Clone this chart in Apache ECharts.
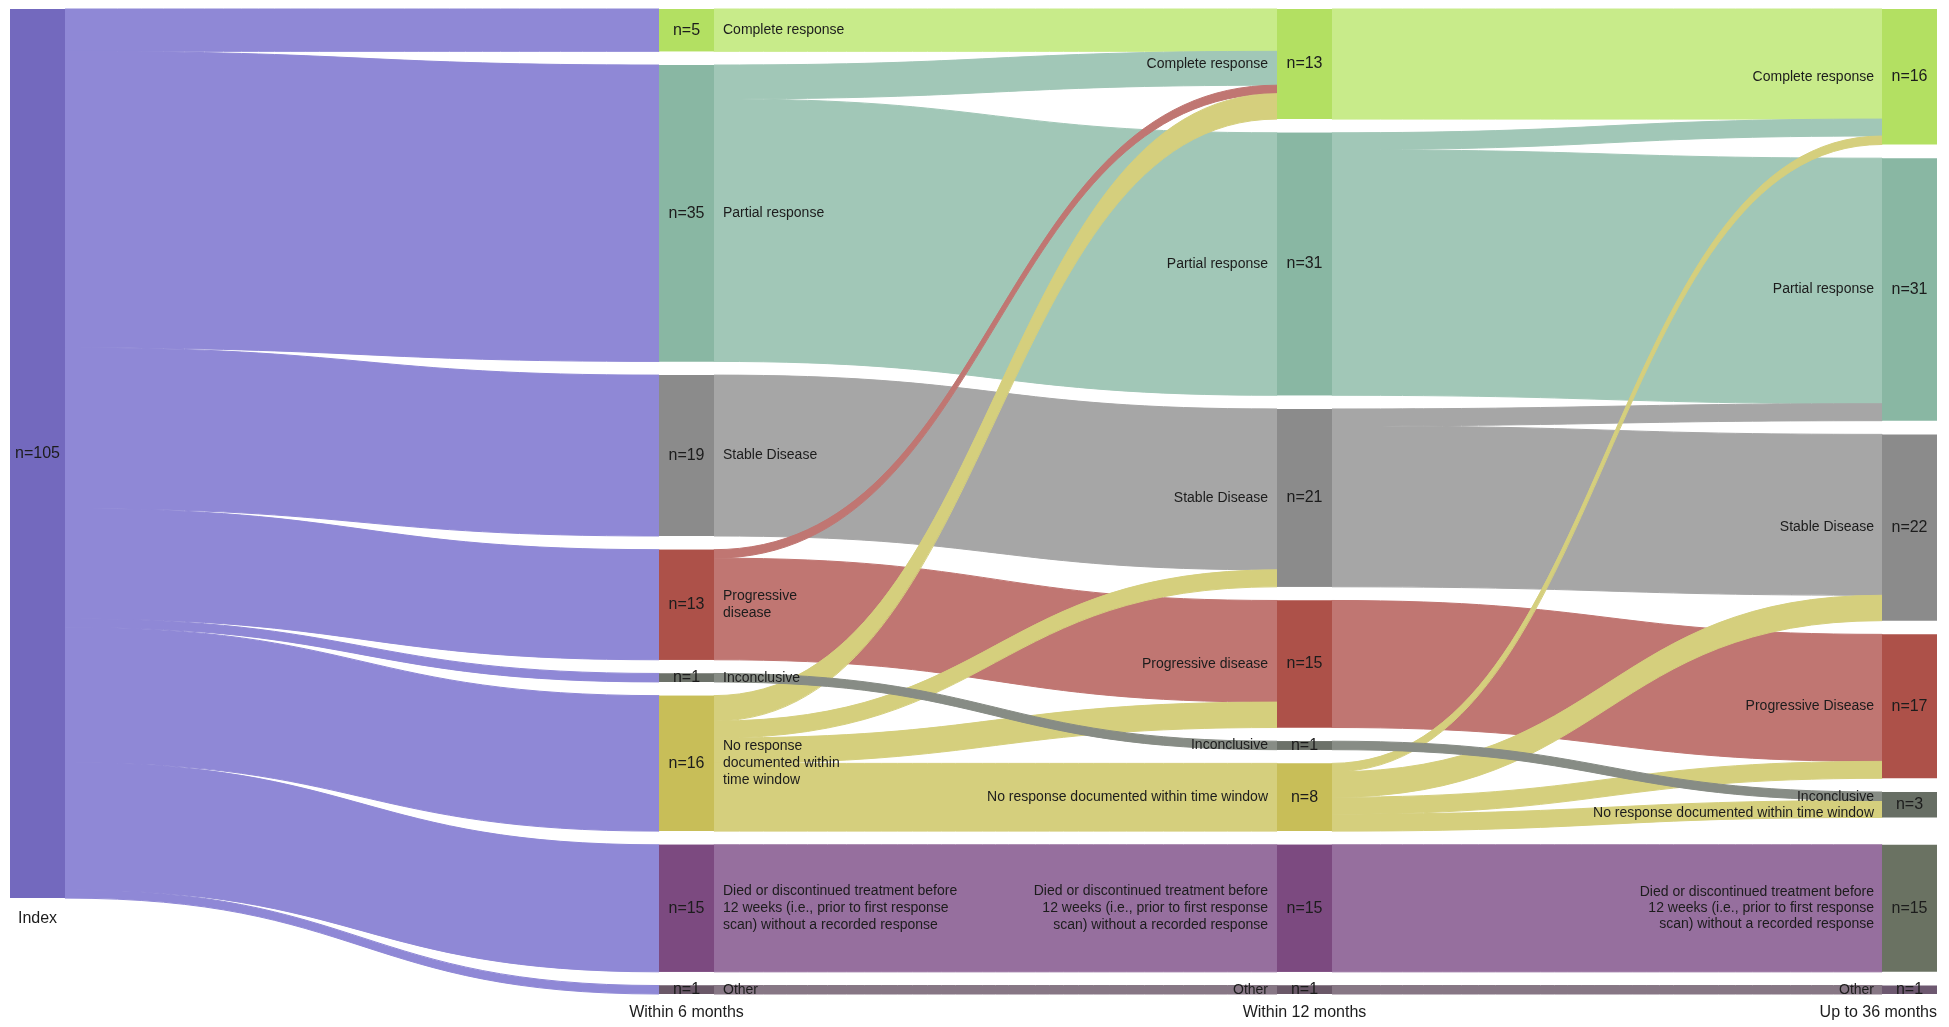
<!DOCTYPE html>
<html>
<head>
<meta charset="utf-8">
<script src="https://cdn.jsdelivr.net/npm/echarts@6/dist/echarts.min.js"></script>
<style>
html,body{margin:0;padding:0;background:#ffffff;}
#chart{width:1949px;height:1027px;}
</style>
</head>
<body>
<div id="chart"></div>
<script>
// ---------------- DATA ----------------
const stageTitles = ['Index', 'Within 6 months', 'Within 12 months', 'Up to 36 months'];

// category keys (same order in every column)
const catKeys = ['CR', 'PR', 'SD', 'PD', 'INC', 'NR', 'DIED', 'OTHER'];

const names6m = [
  'Complete response',
  'Partial response',
  'Stable Disease',
  'Progressive\ndisease',
  'Inconclusive',
  'No response\ndocumented within\ntime window',
  'Died or discontinued treatment before\n12 weeks (i.e., prior to first response\nscan) without a recorded response',
  'Other'
];
const names12m = [
  'Complete response',
  'Partial response',
  'Stable Disease',
  'Progressive disease',
  'Inconclusive',
  'No response documented within time window',
  'Died or discontinued treatment before\n12 weeks (i.e., prior to first response\nscan) without a recorded response',
  'Other'
];
// last column: Inconclusive and No response share one node (n=3)
const keys36m = ['CR', 'PR', 'SD', 'PD', 'INCNR', 'DIED', 'OTHER'];
const names36m = [
  'Complete response',
  'Partial response',
  'Stable Disease',
  'Progressive Disease',
  'Inconclusive\nNo response documented within time window',
  'Died or discontinued treatment before\n12 weeks (i.e., prior to first response\nscan) without a recorded response',
  'Other'
];

const indexTotal = 105;
// Index -> Within 6 months
const indexTo6m = [5, 35, 19, 13, 1, 16, 15, 1];

// Within 6 months -> Within 12 months  [from, to, n]
const flows6to12 = [
  ['CR', 'CR', 5],
  ['PR', 'CR', 4],
  ['PR', 'PR', 31],
  ['SD', 'SD', 19],
  ['PD', 'CR', 1],
  ['PD', 'PD', 12],
  ['NR', 'CR', 3],
  ['NR', 'SD', 2],
  ['NR', 'PD', 3],
  ['NR', 'NR', 8],
  ['DIED', 'DIED', 15],
  ['OTHER', 'OTHER', 1],
  ['INC', 'INC', 1]
];

// Within 12 months -> Up to 36 months  [from, to, n]
const flows12to36 = [
  ['CR', 'CR', 13],
  ['PR', 'CR', 2],
  ['PR', 'PR', 29],
  ['SD', 'PR', 2],
  ['SD', 'SD', 19],
  ['PD', 'PD', 15],
  ['NR', 'CR', 1],
  ['NR', 'SD', 3],
  ['NR', 'PD', 2],
  ['NR', 'INCNR', 2],
  ['DIED', 'DIED', 15],
  ['OTHER', 'OTHER', 1],
  ['INC', 'INCNR', 1]
];

// ---------------- STYLE ----------------
const nodeColor = {
  INDEX: '#7369be', CR: '#b3e062', PR: '#89b7a3', SD: '#8b8b8b', PD: '#ad5149',
  INC: '#6c7169', NR: '#c8be58', DIED: '#7c4a80', OTHER: '#6a5868'
};
const nodeColor36 = {
  CR: '#b3e062', PR: '#89b7a3', SD: '#8b8b8b', PD: '#ad5149',
  INCNR: '#676e64', DIED: '#6a7262', OTHER: '#6d5870'
};
const linkColor = {
  INDEX: '#8f88d6', CR: '#c8eb8a', PR: '#a1c7b7', SD: '#a6a6a6', PD: '#c07672',
  INC: '#878c85', NR: '#d5cf7d', DIED: '#966f9e', OTHER: '#877785'
};

const FONT = '"Liberation Sans", Arial, Helvetica, sans-serif';
const TXT = '#1c1c1c';

// layout (px)
const TOP = 9, BOTTOM = 33, NODE_W = 55, GAP = 13.7;
const colLeft = [10, 659, 1277, 1882];
const W = 1949;

// ---------------- BUILD ----------------
function sum(a) { return a.reduce((s, v) => s + v, 0); }

const transparent = 'rgba(0,0,0,0)';

function nodesIndex(overlay) {
  return [{
    name: 'I', value: indexTotal,
    itemStyle: { color: overlay ? transparent : nodeColor.INDEX },
    label: overlay
      ? { show: true, position: 'bottom', distance: 12, formatter: stageTitles[0], fontSize: 16 }
      : { show: true, position: 'inside', formatter: 'n=' + indexTotal, fontSize: 16 }
  }];
}
function nodes6m(mode) { // mode: 'hidden' | 'n' | 'names'
  return catKeys.map((k, i) => ({
    name: '6_' + k,
    itemStyle: { color: mode === 'names' ? transparent : nodeColor[k] },
    label: mode === 'hidden' ? { show: false }
      : mode === 'n' ? { show: true, position: 'inside', formatter: 'n=' + indexTo6m[i], fontSize: 16 }
      : { show: true, position: 'right', distance: 9, formatter: names6m[i], fontSize: 14, lineHeight: 17 }
  }));
}
function value12(k) { return sum(flows6to12.filter(f => f[1] === k).map(f => f[2])); }
function value36(k) { return sum(flows12to36.filter(f => f[1] === k).map(f => f[2])); }
function nodes12m(mode) {
  return catKeys.map((k, i) => ({
    name: '12_' + k,
    itemStyle: { color: mode === 'names' ? transparent : nodeColor[k] },
    label: mode === 'hidden' ? { show: false }
      : mode === 'n' ? { show: true, position: 'inside', formatter: 'n=' + value12(k), fontSize: 16 }
      : { show: true, position: 'left', distance: 9, formatter: names12m[i], fontSize: 14, lineHeight: 17 }
  }));
}
function nodes36m(mode) {
  const out = [];
  keys36m.forEach((k, i) => {
    out.push({
      name: '36_' + k,
      itemStyle: { color: mode === 'names' ? transparent : nodeColor36[k] },
      label: mode === 'n' ? { show: true, position: 'inside', formatter: 'n=' + value36(k), fontSize: 16 }
        : { show: true, position: 'left', distance: 8, formatter: names36m[i], fontSize: 14, lineHeight: 16 }
    });
    if (k === 'INCNR') {
      // empty spacer slot keeping the last column aligned with the others
      out.push({ name: '36_SPACER', value: 0, depth: 1, itemStyle: { color: transparent }, label: { show: false } });
    }
  });
  return out;
}

function edgeStyle(c, overlay) {
  return overlay
    ? { color: transparent, opacity: 0 }
    : { color: c, opacity: 1, borderColor: c, borderWidth: 1 };
}
function linksIndex(overlay) {
  return catKeys.map((k, i) => ({
    source: 'I', target: '6_' + k, value: indexTo6m[i],
    lineStyle: edgeStyle(linkColor.INDEX, overlay)
  }));
}
function links6to12(overlay) {
  return flows6to12.map(f => ({
    source: '6_' + f[0], target: '12_' + f[1], value: f[2],
    lineStyle: edgeStyle(linkColor[f[0]], overlay)
  }));
}
function links12to36(overlay) {
  return flows12to36.map(f => ({
    source: '12_' + f[0], target: '36_' + f[1], value: f[2],
    lineStyle: edgeStyle(linkColor[f[0]], overlay)
  }));
}

function sankey(fromCol, toCol, data, links, z, overlay) {
  return {
    type: 'sankey',
    left: colLeft[fromCol],
    right: W - (colLeft[toCol] + NODE_W),
    top: TOP,
    bottom: BOTTOM,
    nodeWidth: NODE_W,
    nodeGap: GAP,
    layoutIterations: 0,
    nodeAlign: 'justify',
    draggable: false,
    silent: true,
    z: z,
    emphasis: { disabled: true },
    itemStyle: { borderWidth: 0 },
    lineStyle: { opacity: overlay ? 0 : 1, curveness: 0.5 },
    label: { color: TXT, fontFamily: FONT },
    data: data,
    links: links
  };
}

const series = [
  sankey(0, 1, nodesIndex(false).concat(nodes6m('hidden')), linksIndex(false), 2, false),
  sankey(1, 2, nodes6m('n').concat(nodes12m('hidden')), links6to12(false), 2, false),
  sankey(2, 3, nodes12m('n').concat(nodes36m('n')), links12to36(false), 2, false),
  sankey(0, 1, nodesIndex(true).concat(nodes6m('names')), linksIndex(true), 5, true),
  sankey(2, 3, nodes12m('names').concat(nodes36m('names')), links12to36(true), 5, true)
];

const titleY = 1013;
const graphic = [
  { type: 'text', x: colLeft[1] + NODE_W / 2, y: titleY, style: { text: stageTitles[1], fill: TXT, font: '16px ' + FONT, align: 'center', verticalAlign: 'middle' } },
  { type: 'text', x: colLeft[2] + NODE_W / 2, y: titleY, style: { text: stageTitles[2], fill: TXT, font: '16px ' + FONT, align: 'center', verticalAlign: 'middle' } },
  { type: 'text', x: colLeft[3] + NODE_W, y: titleY, style: { text: stageTitles[3], fill: TXT, font: '16px ' + FONT, align: 'right', verticalAlign: 'middle' } }
];

const chart = echarts.init(document.getElementById('chart'), null, { renderer: 'canvas' });
chart.setOption({
  backgroundColor: '#ffffff',
  animation: false,
  tooltip: { show: false },
  series: series,
  graphic: graphic
});
</script>
</body>
</html>
